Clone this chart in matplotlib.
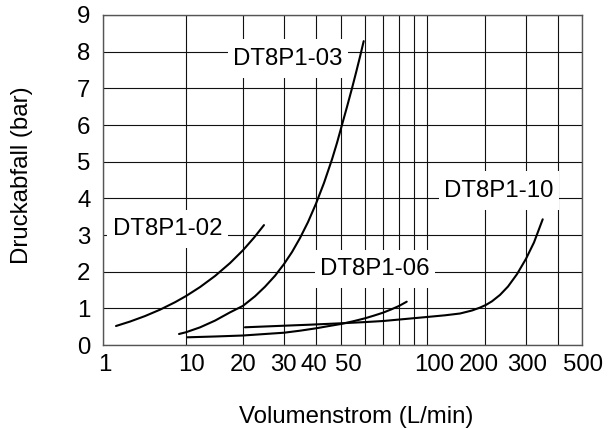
import numpy as np
import matplotlib
matplotlib.use("Agg")
import matplotlib.pyplot as plt
from matplotlib.ticker import FixedLocator, FixedFormatter, NullFormatter
from matplotlib.transforms import ScaledTranslation

plt.rcParams["font.family"] = ["Liberation Sans", "DejaVu Sans"]
plt.rcParams["font.size"] = 17.3

# flow (L/min) and pressure drop (bar)
q_02 = [1.434, 2.115, 3.206, 4.862, 7.37, 10, 11.86, 14.23, 17.08, 20, 22.3, 24.61]
dp_02 = [0.518, 0.639, 0.789, 0.963, 1.166, 1.335, 1.58, 1.882, 2.234, 2.585, 2.927, 3.27]

q_03 = [8.24, 10, 11.86, 14.23, 17.08, 20, 22.52, 24.86, 27.45, 30, 32.24, 34.64,
        37.23, 40, 42.97, 46.15, 48.26, 50.38, 52.34, 54.36, 56.04, 57.77, 59.41]
dp_03 = [0.30, 0.348, 0.481, 0.665, 0.89, 1.068, 1.329, 1.589, 1.888, 2.208, 2.535, 2.917,
         3.353, 3.855, 4.422, 5.065, 5.515, 6.006, 6.497, 7.002, 7.427, 7.863, 8.287]

q_06 = [10.16, 14.23, 20, 24.86, 30, 34.64, 40, 44.53, 50, 54.77, 60, 64.81, 70, 74.83, 80, 85.0]
dp_06 = [0.21, 0.232, 0.259, 0.30, 0.335, 0.39, 0.455, 0.513, 0.573, 0.646, 0.728, 0.802,
         0.881, 0.968, 1.064, 1.181]

q_10 = [20.39, 24.86, 30, 37.9, 50, 60, 70, 83.9, 100, 124.0, 148.4, 171.2, 188.4, 202.0,
        214.3, 232.0, 251.1, 274.5, 300, 322.4, 348.6]
dp_10 = [0.483, 0.505, 0.526, 0.554, 0.592, 0.625, 0.654, 0.709, 0.764, 0.81, 0.859, 0.941,
         1.02, 1.094, 1.192, 1.366, 1.595, 1.933, 2.351, 2.798, 3.428]

series = [("DT8P1-02", q_02, dp_02), ("DT8P1-03", q_03, dp_03),
          ("DT8P1-06", q_06, dp_06), ("DT8P1-10", q_10, dp_10)]

# label anchor (flow, bar at text baseline)
label_names = ["DT8P1-03", "DT8P1-02", "DT8P1-06", "DT8P1-10"]
label_q = [31.1, 5.98, 65.3, 230]
label_dp = [7.64, 3.0, 1.91, 4.04]

x_ticks = [1, 10, 20, 30, 40, 50, 100, 200, 300, 500]
x_minor = [60, 70, 80, 90, 400]
# the printed tick labels do not sit exactly on their grid lines (pixels)
x_label_nudge = [2, 6, 0, -1, -2, 7, 7, -6, 1, 1]

# the printed chart uses an irregular flow axis: knot values and where they sit
scale_vals = np.log10([1, 10, 20, 30, 40, 50, 60, 70, 80, 90, 100, 200, 300, 400, 500])
scale_pos = np.array([103, 186, 243, 284, 316, 341, 365, 383, 399, 414, 427, 485, 526, 558, 582], float)
s_lo = (scale_pos[1] - scale_pos[0]) / (scale_vals[1] - scale_vals[0])
s_hi = (scale_pos[-1] - scale_pos[-2]) / (scale_vals[-1] - scale_vals[-2])


def fwd(x):
    lx = np.log10(np.clip(np.asarray(x, float), 1e-9, None))
    out = np.interp(lx, scale_vals, scale_pos)
    out = np.where(lx < scale_vals[0], scale_pos[0] + (lx - scale_vals[0]) * s_lo, out)
    out = np.where(lx > scale_vals[-1], scale_pos[-1] + (lx - scale_vals[-1]) * s_hi, out)
    return out


def inv(p):
    p = np.asarray(p, float)
    lx = np.interp(p, scale_pos, scale_vals)
    lx = np.where(p < scale_pos[0], scale_vals[0] + (p - scale_pos[0]) / s_lo, lx)
    lx = np.where(p > scale_pos[-1], scale_vals[-1] + (p - scale_pos[-1]) / s_hi, lx)
    return 10 ** lx


fig = plt.figure(figsize=(6.11, 4.29), dpi=100)
ax = fig.add_axes([103 / 611, 84 / 429, 479 / 611, 330 / 429])
ax.set_xscale("function", functions=(fwd, inv))
ax.set_xlim(1, 500)
ax.set_ylim(0, 9)

ax.xaxis.set_major_locator(FixedLocator(x_ticks))
ax.xaxis.set_major_formatter(FixedFormatter([str(v) for v in x_ticks]))
ax.xaxis.set_minor_locator(FixedLocator(x_minor))
ax.xaxis.set_minor_formatter(NullFormatter())
ax.set_yticks(range(0, 10))
ax.tick_params(which="both", length=0)
ax.tick_params(axis="x", pad=6.5)
ax.tick_params(axis="y", pad=9)

ax.set_axisbelow(True)
ax.grid(True, which="both", color="#111111", linewidth=0.8)
for sp in ax.spines.values():
    sp.set_color("#555555")
    sp.set_linewidth(1.0)

for name, q, dp in series:
    ax.plot(q, dp, color="black", linewidth=1.5, zorder=4,
            solid_joinstyle="round", solid_capstyle="round")

for name, q, dp in zip(label_names, label_q, label_dp):
    ax.text(q, dp, name, ha="center", va="baseline", zorder=3,
            bbox=dict(boxstyle="square,pad=0.22", fc="white", ec="none",
                      mutation_aspect=1.6))

xl = ax.set_xlabel("Volumenstrom (L/min)")
ax.xaxis.set_label_coords(0.528, -0.236)
xl.set_va("baseline")
yl = ax.set_ylabel("Druckabfall (bar)")
ax.yaxis.set_label_coords(-0.169, 0.515)
yl.set_va("center")

for tick, dx in zip(ax.xaxis.get_major_ticks(), x_label_nudge):
    lab = tick.label1
    lab.set_transform(lab.get_transform() + ScaledTranslation(dx / 100, 0, fig.dpi_scale_trans))

fig.savefig("out.png", dpi=100)
